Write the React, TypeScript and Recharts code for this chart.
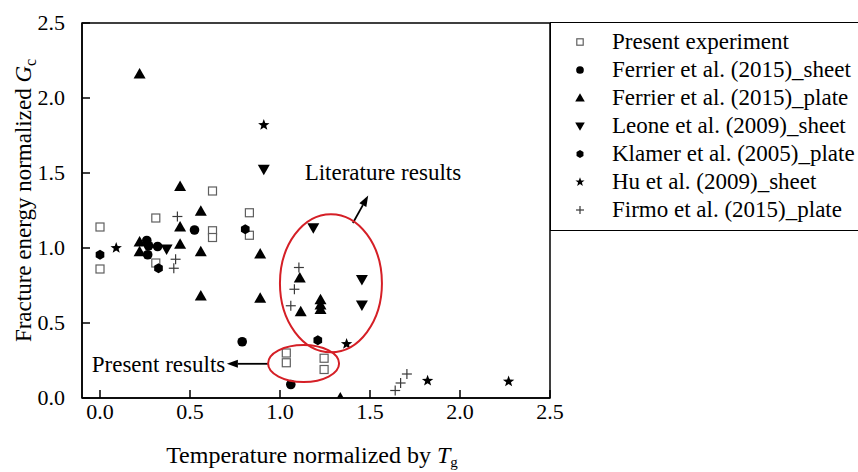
import React from 'react';
import {
  ScatterChart,
  Scatter,
  XAxis,
  YAxis,
  ReferenceArea,
  ReferenceDot,
  ReferenceLine,
  Legend,
  Label,
} from 'recharts';

const FONT = '"Liberation Serif", "Times New Roman", Times, serif';

// Axis ticks
const X_TICKS = [0, 0.5, 1.0, 1.5, 2.0, 2.5];
const Y_TICKS = [0, 0.5, 1.0, 1.5, 2.0, 2.5];

// Normalized temperature (T/Tg) vs normalized fracture energy Gc
const presentExperiment = [
  { x: 0.0, y: 1.14 }, { x: 0.0, y: 0.86 }, { x: 0.31, y: 1.2 }, { x: 0.31, y: 0.9 },
  { x: 0.625, y: 1.38 }, { x: 0.625, y: 1.115 }, { x: 0.625, y: 1.07 },
  { x: 0.83, y: 1.235 }, { x: 0.83, y: 1.085 },
  { x: 1.035, y: 0.3 }, { x: 1.035, y: 0.235 }, { x: 1.245, y: 0.265 }, { x: 1.245, y: 0.19 },
];
const ferrierSheet = [
  { x: 0.26, y: 1.05 }, { x: 0.27, y: 1.015 }, { x: 0.265, y: 0.955 }, { x: 0.32, y: 1.01 },
  { x: 0.525, y: 1.12 }, { x: 0.79, y: 0.375 }, { x: 1.06, y: 0.09 },
];
const ferrierPlate = [
  { x: 0.22, y: 2.16 }, { x: 0.22, y: 1.04 }, { x: 0.22, y: 0.975 },
  { x: 0.445, y: 1.41 }, { x: 0.445, y: 1.14 }, { x: 0.445, y: 1.025 },
  { x: 0.56, y: 1.245 }, { x: 0.56, y: 0.975 }, { x: 0.56, y: 0.68 },
  { x: 0.89, y: 0.96 }, { x: 0.89, y: 0.665 },
  { x: 1.11, y: 0.8 }, { x: 1.115, y: 0.575 },
  { x: 1.225, y: 0.655 }, { x: 1.225, y: 0.62 }, { x: 1.225, y: 0.59 },
  { x: 1.335, y: 0.0 },
];
const leoneSheet = [
  { x: 0.91, y: 1.525 }, { x: 0.37, y: 0.993 }, { x: 1.185, y: 1.135 },
  { x: 1.455, y: 0.79 }, { x: 1.455, y: 0.62 },
];
const klamerPlate = [
  { x: 0.0, y: 0.955 }, { x: 0.325, y: 0.865 }, { x: 0.807, y: 1.125 }, { x: 1.21, y: 0.385 },
];
const huSheet = [
  { x: 0.09, y: 1.0 }, { x: 0.91, y: 1.82 }, { x: 1.37, y: 0.36 }, { x: 1.82, y: 0.115 }, { x: 2.27, y: 0.11 },
];
const firmoPlate = [
  { x: 0.43, y: 1.21 }, { x: 0.42, y: 0.925 }, { x: 0.41, y: 0.865 },
  { x: 1.105, y: 0.87 }, { x: 1.08, y: 0.725 }, { x: 1.06, y: 0.615 },
  { x: 1.64, y: 0.05 }, { x: 1.67, y: 0.1 }, { x: 1.705, y: 0.16 },
];

// Annotation anchors (data coordinates)
const literatureEllipse = { x: 1.283, y: 0.765 };
const presentEllipse = { x: 1.131, y: 0.23 };
const literatureArrow = [{ x: 1.405, y: 1.167 }, { x: 1.49, y: 1.35 }];
const presentArrow = [{ x: 0.935, y: 0.228 }, { x: 0.705, y: 0.228 }];
const literatureText = { x: 1.137, y: 1.455, text: 'Literature results' };
const presentText = { x: -0.046, y: 0.172, text: 'Present results' };

// ---------- marker shapes ----------
type M = { cx: number; cy: number; s?: number };

const Square = ({ cx, cy, s = 1 }: M) => (
  <rect x={cx - 4 * s} y={cy - 4 * s} width={8 * s} height={8 * s} fill="#fff" stroke="#5f5f5f" strokeWidth={1.2} />
);
const Dot = ({ cx, cy, s = 1 }: M) => <circle cx={cx} cy={cy} r={4.8 * s} fill="#000" />;
const Hexagon = ({ cx, cy, s = 1 }: M) => {
  const r = 5 * s;
  const pts = Array.from({ length: 6 }, (_, i) => {
    const a = (Math.PI / 3) * i + Math.PI / 6;
    return `${cx + r * Math.cos(a)},${cy + r * Math.sin(a)}`;
  }).join(' ');
  return <polygon points={pts} fill="#000" />;
};
const TriUp = ({ cx, cy, s = 1 }: M) => (
  <polygon points={`${cx},${cy - 6 * s} ${cx + 6 * s},${cy + 4.5 * s} ${cx - 6 * s},${cy + 4.5 * s}`} fill="#000" />
);
const TriDown = ({ cx, cy, s = 1 }: M) => (
  <polygon points={`${cx},${cy + 6 * s} ${cx + 6 * s},${cy - 4.5 * s} ${cx - 6 * s},${cy - 4.5 * s}`} fill="#000" />
);
const Star = ({ cx, cy, s = 1 }: M) => {
  const ro = 6 * s;
  const ri = 2.5 * s;
  const pts = Array.from({ length: 10 }, (_, i) => {
    const r = i % 2 === 0 ? ro : ri;
    const a = -Math.PI / 2 + (Math.PI / 5) * i;
    return `${cx + r * Math.cos(a)},${cy + r * Math.sin(a)}`;
  }).join(' ');
  return <polygon points={pts} fill="#000" />;
};
const Plus = ({ cx, cy, s = 1 }: M) => (
  <g stroke="#3a3a3a" strokeWidth={1.2}>
    <line x1={cx - 5 * s} y1={cy} x2={cx + 5 * s} y2={cy} />
    <line x1={cx} y1={cy - 5 * s} x2={cx} y2={cy + 5 * s} />
  </g>
);

const SERIES = [
  { name: 'Present experiment', data: presentExperiment, Marker: Square },
  { name: 'Ferrier et al. (2015)_sheet', data: ferrierSheet, Marker: Dot },
  { name: 'Ferrier et al. (2015)_plate', data: ferrierPlate, Marker: TriUp },
  { name: 'Leone et al. (2009)_sheet', data: leoneSheet, Marker: TriDown },
  { name: 'Klamer et al. (2005)_plate', data: klamerPlate, Marker: Hexagon },
  { name: 'Hu et al. (2009)_sheet', data: huSheet, Marker: Star },
  { name: 'Firmo et al. (2015)_plate', data: firmoPlate, Marker: Plus },
];

// ---------- axes ----------
const XTick = (props: any) => {
  const { x, y, payload } = props;
  return (
    <g>
      <line x1={x} y1={y} x2={x} y2={y - 8} stroke="#000" strokeWidth={1.5} />
      <text x={x} y={y + 21} textAnchor="middle" fontSize={22} fontFamily={FONT} fill="#000">
        {Number(payload.value).toFixed(1)}
      </text>
    </g>
  );
};

const YTick = (props: any) => {
  const { x, y, payload } = props;
  return (
    <g>
      <line x1={x} y1={y} x2={x + 8} y2={y} stroke="#000" strokeWidth={1.5} />
      <text x={x - 17} y={y} dy="0.34em" textAnchor="end" fontSize={22} fontFamily={FONT} fill="#000">
        {Number(payload.value).toFixed(1)}
      </text>
    </g>
  );
};

const XTitle = (props: any) => {
  const vb = props.viewBox || { x: 0, y: 0, width: 0, height: 0 };
  const cx = vb.x + vb.width / 2 - 4;
  return (
    <text x={cx} y={vb.y + 65} textAnchor="middle" fontSize={24} fontFamily={FONT} fill="#000">
      Temperature normalized by <tspan fontStyle="italic">T</tspan>
      <tspan fontSize={15} dy={4}>g</tspan>
    </text>
  );
};

const YTitle = (props: any) => {
  const vb = props.viewBox || { x: 0, y: 0, width: 0, height: 0 };
  const cy = vb.y + vb.height / 2 - 10;
  return (
    <text
      transform="rotate(-90)"
      x={-cy}
      y={31}
      textAnchor="middle"
      fontSize={23}
      fontFamily={FONT}
      fill="#000"
    >
      Fracture energy normalized <tspan fontStyle="italic">G</tspan>
      <tspan fontSize={16} dy={5}>c</tspan>
    </text>
  );
};

// ---------- annotations ----------
const ellipseShape = (rx: number, ry: number) => (p: any) => (
  <ellipse cx={p.cx} cy={p.cy} rx={rx} ry={ry} fill="none" stroke="#d51f26" strokeWidth={2} />
);

const textShape = (text: string) => (p: any) => (
  <text x={p.cx} y={p.cy} fontSize={23} fontFamily={FONT} fill="#000" textAnchor="start">
    {text}
  </text>
);

const arrowShape = (p: any) => {
  const { x1, y1, x2, y2 } = p;
  const a = Math.atan2(y2 - y1, x2 - x1);
  const len = 11;
  const half = 4;
  const bx = x2 - len * Math.cos(a);
  const by = y2 - len * Math.sin(a);
  const px = -Math.sin(a) * half;
  const py = Math.cos(a) * half;
  return (
    <g>
      <line x1={x1} y1={y1} x2={bx} y2={by} stroke="#000" strokeWidth={1.8} />
      <polygon points={`${x2},${y2} ${bx + px},${by + py} ${bx - px},${by - py}`} fill="#000" />
    </g>
  );
};

// ---------- legend ----------
const renderLegend = () => (
  <div
    style={{
      boxSizing: 'border-box',
      width: 308,
      height: 209,
      borderTop: '1.5px solid #000',
      borderLeft: '1.5px solid #000',
      borderBottom: '1.5px solid #000',
      background: '#fff',
      paddingTop: 5,
      fontFamily: FONT,
      fontSize: 23,
      color: '#000',
    }}
  >
    {SERIES.map(({ name, Marker }) => (
      <div key={name} style={{ display: 'flex', alignItems: 'center', height: 28, whiteSpace: 'nowrap' }}>
        <svg width={61} height={28} style={{ flex: 'none' }}>
          <Marker cx={29} cy={14} s={0.8} />
        </svg>
        <span style={{ lineHeight: '28px' }}>{name}</span>
      </div>
    ))}
  </div>
);

export default function App() {
  return (
    <div style={{ position: 'absolute', left: 0, top: 0, width: 858, height: 472, background: '#fff' }}>
      <ScatterChart width={858} height={472} margin={{ top: 23, right: 308, bottom: 0, left: 0 }}>
        <XAxis
          type="number"
          dataKey="x"
          domain={[-0.1, 2.5]}
          ticks={X_TICKS}
          interval={0}
          allowDataOverflow
          height={74}
          tickSize={0}
          tickMargin={0}
          tickLine={false}
          axisLine={{ stroke: '#000', strokeWidth: 1.5 }}
          tick={<XTick />}
        >
          <Label content={<XTitle />} />
        </XAxis>
        <YAxis
          type="number"
          dataKey="y"
          domain={[0, 2.5]}
          ticks={Y_TICKS}
          interval={0}
          allowDataOverflow
          width={82}
          tickSize={0}
          tickMargin={0}
          tickLine={false}
          axisLine={{ stroke: '#000', strokeWidth: 1.5 }}
          tick={<YTick />}
        >
          <Label content={<YTitle />} />
        </YAxis>
        <ReferenceArea
          x1={-0.1}
          x2={2.5}
          y1={0}
          y2={2.5}
          fill="none"
          fillOpacity={0}
          stroke="#000"
          strokeWidth={1.5}
          ifOverflow="visible"
        />
        {SERIES.map(({ name, data, Marker }) => (
          <Scatter
            key={name}
            name={name}
            data={data}
            isAnimationActive={false}
            shape={(p: any) => <Marker cx={p.cx} cy={p.cy} />}
          />
        ))}
        <ReferenceDot x={literatureEllipse.x} y={literatureEllipse.y} shape={ellipseShape(51, 69)} ifOverflow="visible" />
        <ReferenceDot x={presentEllipse.x} y={presentEllipse.y} shape={ellipseShape(35.5, 18.5)} ifOverflow="visible" />
        <ReferenceLine segment={literatureArrow} shape={arrowShape} ifOverflow="visible" />
        <ReferenceLine segment={presentArrow} shape={arrowShape} ifOverflow="visible" />
        <ReferenceDot x={literatureText.x} y={literatureText.y} shape={textShape(literatureText.text)} ifOverflow="visible" />
        <ReferenceDot x={presentText.x} y={presentText.y} shape={textShape(presentText.text)} ifOverflow="visible" />
        <Legend
          layout="vertical"
          align="center"
          verticalAlign="middle"
          content={renderLegend}
          wrapperStyle={{ left: 550, top: 22, width: 308, height: 209, margin: 0, padding: 0 }}
        />
      </ScatterChart>
    </div>
  );
}
